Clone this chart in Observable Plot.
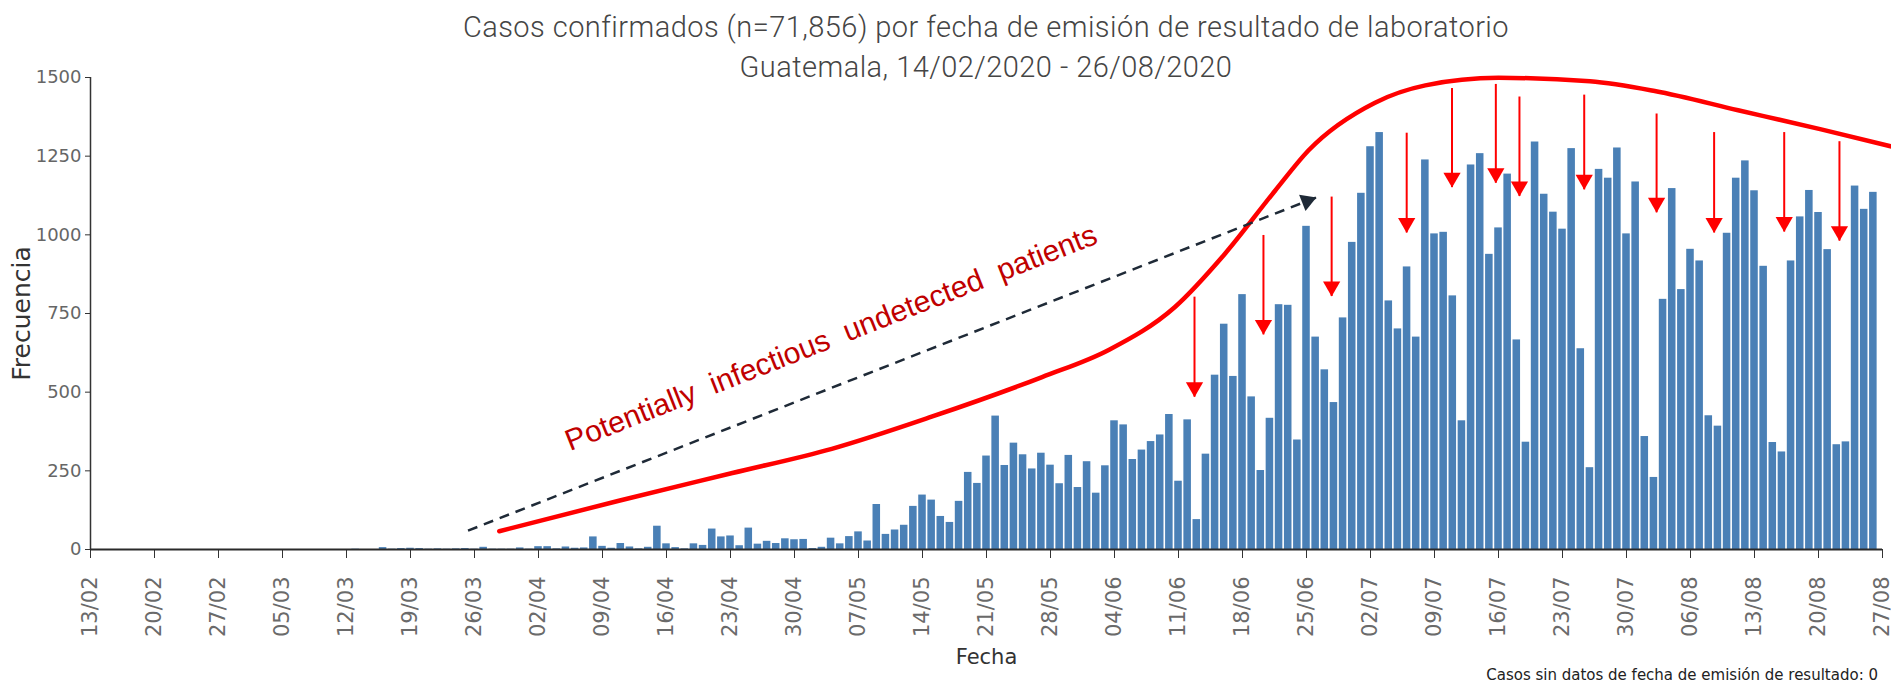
<!DOCTYPE html>
<html>
<head>
<meta charset="utf-8">
<script src="https://cdn.jsdelivr.net/npm/d3@7"></script>
<script src="https://cdn.jsdelivr.net/npm/@observablehq/plot@0.6"></script>
<style>
  html, body { margin: 0; padding: 0; background: #fff; }
  #wrap { position: relative; width: 1891px; height: 687px; overflow: hidden; }
  .title { position: absolute; left: 90px; width: 1792px; text-align: center;
           font-family: "Roboto", sans-serif; font-weight: 300; font-size: 29px; letter-spacing: 0.45px;
           line-height: 40px; color: #454545; white-space: nowrap; }
  #t1 { top: 7px; }
  #t2 { top: 47px; }
  #caption { position: absolute; right: 13px; top: 666px; font-family: "DejaVu Sans", sans-serif;
             font-size: 15px; line-height: 18px; color: #222; white-space: nowrap; }
</style>
</head>
<body>
<div id="wrap">
  <div id="chart"></div>
  <div class="title" id="t1">Casos confirmados (n=71,856) por fecha de emisión de resultado de laboratorio</div>
  <div class="title" id="t2">Guatemala, 14/02/2020 - 26/08/2020</div>
  <div id="caption">Casos sin datos de fecha de emisión de resultado: 0</div>
</div>
<script>
// ---- Daily confirmed cases by month (index 0 = first day listed) ----
const casosFeb = [0,0,0,0,0,0,0,0,0,0,0,0,0,0,0,0];               // 14/02 - 29/02
const casosMar = [0,0,0,0,0,0,0,0,0,0,0,0,1,0,0,6,1,3,4,3,1,2,1,2,3,1,7,1,1,1,5];
const casosAbr = [1,9,9,2,8,4,5,40,10,4,19,8,2,7,74,18,6,2,18,13,65,40,43,12,68,17,26,19,34,31];
const casosMay = [32,3,7,36,18,41,56,27,143,48,62,77,137,173,157,105,86,153,245,210,297,424,267,338,301,256,306,268,209,299,197];
const casosJun = [279,179,266,409,396,286,316,343,364,429,217,412,95,303,554,716,550,810,485,251,417,778,776,348,1027,675,571,467,736,976];
const casosJul = [1132,1280,1325,790,701,898,675,1238,1003,1008,806,409,1222,1258,938,1022,1193,666,341,1295,1129,1072,1018,1274,638,260,1208,1180,1276,1003,1168];
const casosAgo = [359,229,795,1147,826,954,917,425,392,1005,1180,1235,1140,900,340,310,917,1057,1141,1071,953,333,342,1155,1081,1135];
const meses = [
  {mes: 2, primerDia: 14, valores: casosFeb},
  {mes: 3, primerDia: 1, valores: casosMar},
  {mes: 4, primerDia: 1, valores: casosAbr},
  {mes: 5, primerDia: 1, valores: casosMay},
  {mes: 6, primerDia: 1, valores: casosJun},
  {mes: 7, primerDia: 1, valores: casosJul},
  {mes: 8, primerDia: 1, valores: casosAgo}
];

// ---- Axis ticks ----
const tickFechas = ["2020-02-13","2020-02-20","2020-02-27","2020-03-05","2020-03-12","2020-03-19","2020-03-26",
  "2020-04-02","2020-04-09","2020-04-16","2020-04-23","2020-04-30","2020-05-07","2020-05-14","2020-05-21",
  "2020-05-28","2020-06-04","2020-06-11","2020-06-18","2020-06-25","2020-07-02","2020-07-09","2020-07-16",
  "2020-07-23","2020-07-30","2020-08-06","2020-08-13","2020-08-20","2020-08-27"];
const yTicks = [0, 250, 500, 750, 1000, 1250, 1500];
const xDominio = ["2020-02-13", "2020-08-27"];

// ---- Annotation: red envelope curve ----
const curvaFechas = ["2020-03-28T17:00Z","2020-04-10T19:00Z","2020-04-23T05:00Z","2020-05-04T02:00Z","2020-05-15T00:00Z",
  "2020-05-27T02:00Z","2020-06-03T10:00Z","2020-06-10T14:00Z","2020-06-16T02:00Z","2020-06-21T14:00Z","2020-06-25T05:00Z",
  "2020-07-02T12:00Z","2020-07-08T00:00Z","2020-07-16T00:00Z","2020-07-26T00:00Z","2020-08-02T02:00Z","2020-08-11T05:00Z",
  "2020-08-20T07:00Z","2020-08-28T02:00Z"];
const curvaValores = [58,155,243,320,422,548,635,770,940,1141,1268,1420,1475,1499,1488,1457,1396,1335,1280];

// ---- Annotation: dashed arrow ----
const flechaDesde = {fecha: "2020-03-25T07:00Z", valor: 60};
const flechaHasta = {fecha: "2020-06-26T02:00Z", valor: 1119};

// ---- Annotation: red down arrows ----
const flechasFecha = ["2020-06-12T18:00Z","2020-06-20T07:00Z","2020-06-27T18:00Z","2020-07-05T23:00Z","2020-07-10T22:00Z",
  "2020-07-15T17:00Z","2020-07-18T07:00Z","2020-07-25T09:00Z","2020-08-02T07:00Z","2020-08-08T14:00Z",
  "2020-08-16T06:00Z","2020-08-22T07:00Z"];
const flechasInicio = [802,998,1120,1323,1465,1478,1438,1444,1384,1325,1325,1296];
const flechasFin = [484,682,804,1006,1150,1164,1122,1143,1070,1006,1009,980];

// ---- Annotation text ----
const anotacion = {texto: "Potentially\u00a0 infectious\u00a0 undetected\u00a0 patients", fecha: "2020-05-04T00:00Z", valor: 672};

// ---- Build tables ----
const datos = meses.flatMap(m => m.valores.map((v, i) => ({fecha: new Date(Date.UTC(2020, m.mes - 1, m.primerDia + i)), valor: v})));
const curva = curvaFechas.map((f, i) => ({fecha: new Date(f), valor: curvaValores[i]}));
const flecha = [{x1: new Date(flechaDesde.fecha), y1: flechaDesde.valor, x2: new Date(flechaHasta.fecha), y2: flechaHasta.valor}];
const flechas = flechasFecha.map((f, i) => ({fecha: new Date(f), inicio: flechasInicio[i], fin: flechasFin[i]}));

const azul = "#4a80b6", rojo = "#ff0000", oscuro = "#1f2a37";

const chart = Plot.plot({
  width: 1891,
  height: 687,
  marginLeft: 90,
  marginRight: 9,
  marginTop: 77,
  marginBottom: 138,
  style: {background: "transparent", fontFamily: "DejaVu Sans", overflow: "visible"},
  x: {type: "utc", domain: xDominio.map(d => new Date(d)), label: null},
  y: {domain: [0, 1500], label: null},
  marks: [
    Plot.rectY(datos, {
      x1: d => d3.utcHour.offset(d.fecha, -12),
      x2: d => d3.utcHour.offset(d.fecha, 12),
      y: "valor", fill: azul, insetLeft: 0.8, insetRight: 0.8
    }),
    Plot.axisY({ticks: yTicks, tickFormat: d => String(d), tickSize: 5, tickPadding: 4, fontSize: 18, fill: "#666", stroke: "#333", label: null}),
    Plot.axisX({ticks: tickFechas.map(d => new Date(d)), tickFormat: d3.utcFormat("%d/%m"), tickRotate: -90,
      tickSize: 9, tickPadding: 18, fontSize: 21, fill: "#6a6a6a", stroke: "#333", label: null}),
    Plot.ruleX([new Date(xDominio[0])], {y1: 0, y2: 1500, stroke: "#333", strokeWidth: 1.5}),
    Plot.ruleY([0], {stroke: "#2a2a2a", strokeWidth: 2}),
    Plot.text(["Frecuencia"], {frameAnchor: "left", textAnchor: "middle", dx: -69, rotate: -90, fontSize: 25, fill: "#333"}),
    Plot.text(["Fecha"], {frameAnchor: "bottom", dy: 114, fontSize: 21, fill: "#333"}),
    // red envelope
    Plot.line(curva, {x: "fecha", y: "valor", stroke: rojo, strokeWidth: 4.5, curve: "monotone-x"}),
    // dashed arrow
    Plot.link(flecha, {x1: "x1", y1: "y1", x2: "x2", y2: "y2", stroke: oscuro, strokeWidth: 2.5, strokeDasharray: "10,7"}),
    Plot.dot(flecha, {x: "x2", y: "y2", symbol: "triangle", r: 6.5, rotate: 68.6, fill: oscuro, stroke: "none", dx: -9.4, dy: 3.7}),
    // red down arrows
    Plot.ruleX(flechas, {x: "fecha", y1: "inicio", y2: "fin", stroke: rojo, strokeWidth: 2}),
    Plot.dot(flechas, {x: "fecha", y: "fin", symbol: "triangle", r: 6.4, rotate: 180, fill: rojo, stroke: "none", dy: -10}),
    // annotation text
    Plot.text([anotacion], {x: d => new Date(d.fecha), y: "valor", text: "texto", rotate: -21.5,
      fontSize: 30, fontFamily: "Liberation Sans", fill: "#c00000"})
  ]
});
document.getElementById("chart").appendChild(chart);
</script>
</body>
</html>
